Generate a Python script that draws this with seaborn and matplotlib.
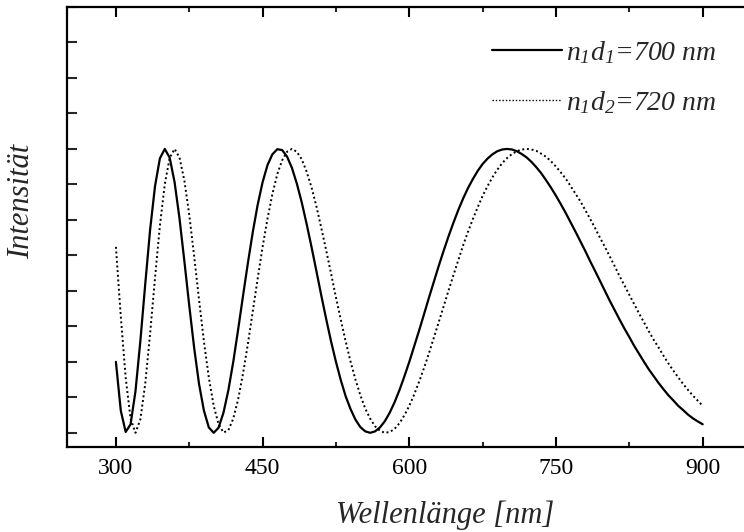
import numpy as np
import pandas as pd
import matplotlib
matplotlib.use("Agg")
import matplotlib.pyplot as plt
from matplotlib.ticker import MultipleLocator
import seaborn as sns

# Wavelength samples (nm)
wavelength = list(range(300, 905, 5))

# n1d1 = 700 nm (solid)
intensity_700 = [
    0.250, 0.078, 0.003, 0.030, 0.146, 0.323, 0.524, 0.716, 0.869, 0.967,
    1.000, 0.969, 0.883, 0.756, 0.605, 0.448, 0.300, 0.172, 0.078, 0.019,
    0.000, 0.018, 0.071, 0.150, 0.250, 0.364, 0.483, 0.599, 0.708, 0.804,
    0.883, 0.943, 0.981, 0.999, 0.996, 0.973, 0.933, 0.878, 0.812, 0.736,
    0.655, 0.570, 0.484, 0.401, 0.322, 0.250, 0.185, 0.128, 0.083, 0.046,
    0.020, 0.005, 0.000, 0.005, 0.019, 0.041, 0.071, 0.108, 0.151, 0.199,
    0.250, 0.305, 0.360, 0.417, 0.475, 0.531, 0.587, 0.640, 0.691, 0.739,
    0.784, 0.825, 0.862, 0.894, 0.923, 0.947, 0.966, 0.981, 0.992, 0.998,
    1.000, 0.998, 0.992, 0.982, 0.970, 0.954, 0.935, 0.914, 0.889, 0.863,
    0.835, 0.805, 0.774, 0.741, 0.708, 0.674, 0.640, 0.604, 0.570, 0.535,
    0.500, 0.465, 0.432, 0.399, 0.367, 0.337, 0.306, 0.278, 0.250, 0.223,
    0.199, 0.175, 0.153, 0.132, 0.114, 0.095, 0.080, 0.064, 0.051, 0.040,
    0.030,
]

# n1d2 = 720 nm (dotted)
intensity_720 = [
    0.655, 0.410, 0.194, 0.050, 0.000, 0.047, 0.173, 0.350, 0.546, 0.730,
    0.876, 0.969, 1.000, 0.970, 0.889, 0.768, 0.623, 0.469, 0.322, 0.195,
    0.095, 0.030, 0.001, 0.009, 0.050, 0.118, 0.209, 0.314, 0.429, 0.544,
    0.655, 0.754, 0.841, 0.911, 0.960, 0.990, 1.000, 0.990, 0.964, 0.920,
    0.865, 0.798, 0.722, 0.643, 0.561, 0.477, 0.398, 0.321, 0.250, 0.187,
    0.132, 0.085, 0.050, 0.023, 0.007, 0.000, 0.003, 0.014, 0.034, 0.062,
    0.095, 0.135, 0.180, 0.228, 0.279, 0.334, 0.389, 0.444, 0.500, 0.554,
    0.607, 0.660, 0.708, 0.753, 0.795, 0.835, 0.869, 0.900, 0.927, 0.950,
    0.968, 0.982, 0.992, 0.998, 1.000, 0.998, 0.993, 0.983, 0.972, 0.956,
    0.938, 0.917, 0.895, 0.869, 0.842, 0.815, 0.784, 0.753, 0.721, 0.687,
    0.655, 0.621, 0.587, 0.552, 0.519, 0.486, 0.453, 0.420, 0.389, 0.357,
    0.327, 0.300, 0.271, 0.244, 0.219, 0.195, 0.172, 0.151, 0.131, 0.113,
    0.095,
]

xticks = [300, 450, 600, 750, 900]
label_700 = r"$n_1d_1$=700 nm"
label_720 = r"$n_1d_2$=720 nm"

sns.set_style("ticks")
plt.rcParams["font.family"] = ["Liberation Serif", "DejaVu Serif"]
plt.rcParams["mathtext.fontset"] = "custom"
plt.rcParams["mathtext.it"] = "Liberation Serif:italic"
plt.rcParams["mathtext.rm"] = "Liberation Serif:italic"

df = pd.DataFrame({"wl": wavelength, "i700": intensity_700, "i720": intensity_720})

fig = plt.figure(figsize=(7.44, 5.32), dpi=100)
ax = fig.add_axes([67 / 744, 1 - 447 / 532, 684.6 / 744, 440 / 532])

sns.lineplot(data=df, x="wl", y="i700", ax=ax, color="black", lw=1.6, label=label_700)
sns.lineplot(data=df, x="wl", y="i720", ax=ax, color="black", lw=1.4,
             dashes=False, label=label_720)
ax.lines[1].set_linestyle((0, (1, 1.4)))

ax.set_xlim(250, 950)
ax.set_ylim(-0.05, 1.5)
ax.set_xticks(xticks)
ax.set_xticklabels([str(t) for t in xticks])
ax.xaxis.set_minor_locator(MultipleLocator(75))
ax.yaxis.set_major_locator(MultipleLocator(0.125))
ax.set_yticklabels([])

for s in ax.spines.values():
    s.set_linewidth(1.6)
    s.set_color("black")

ax.tick_params(axis="x", which="major", direction="in", length=7, width=1.5,
               labelsize=17, pad=8, colors="black", top=True)
ax.tick_params(axis="x", which="minor", direction="in", length=3.5, width=1.5, top=True)
ax.tick_params(axis="y", which="major", direction="in", length=7, width=1.5, left=True)

ax.set_xlabel("Wellenlänge [nm]", fontsize=22, fontstyle="italic")
ax.set_ylabel("Intensität", fontsize=22, fontstyle="italic")
ax.xaxis.set_label_coords((445 - 67) / 684.6, (447 - 515) / 440)
ax.xaxis.label.set_va("center")
ax.yaxis.set_label_coords((22 - 67) / 684.6, (447 - 201) / 440)
ax.yaxis.label.set_va("center")
ax.yaxis.label.set_ha("center")

leg = ax.legend(loc="upper left", bbox_to_anchor=((467 - 67) / 684.6, (447 - 14) / 440),
                frameon=False, prop={"family": "Liberation Serif", "style": "italic", "size": 20},
                handlelength=2.52, handletextpad=0.15, labelspacing=0.84)
leg.get_lines()[1].set_linestyle((0, (1, 1.4)))
leg.get_lines()[1].set_linewidth(1.0)

fig.savefig("out.png", dpi=100)
